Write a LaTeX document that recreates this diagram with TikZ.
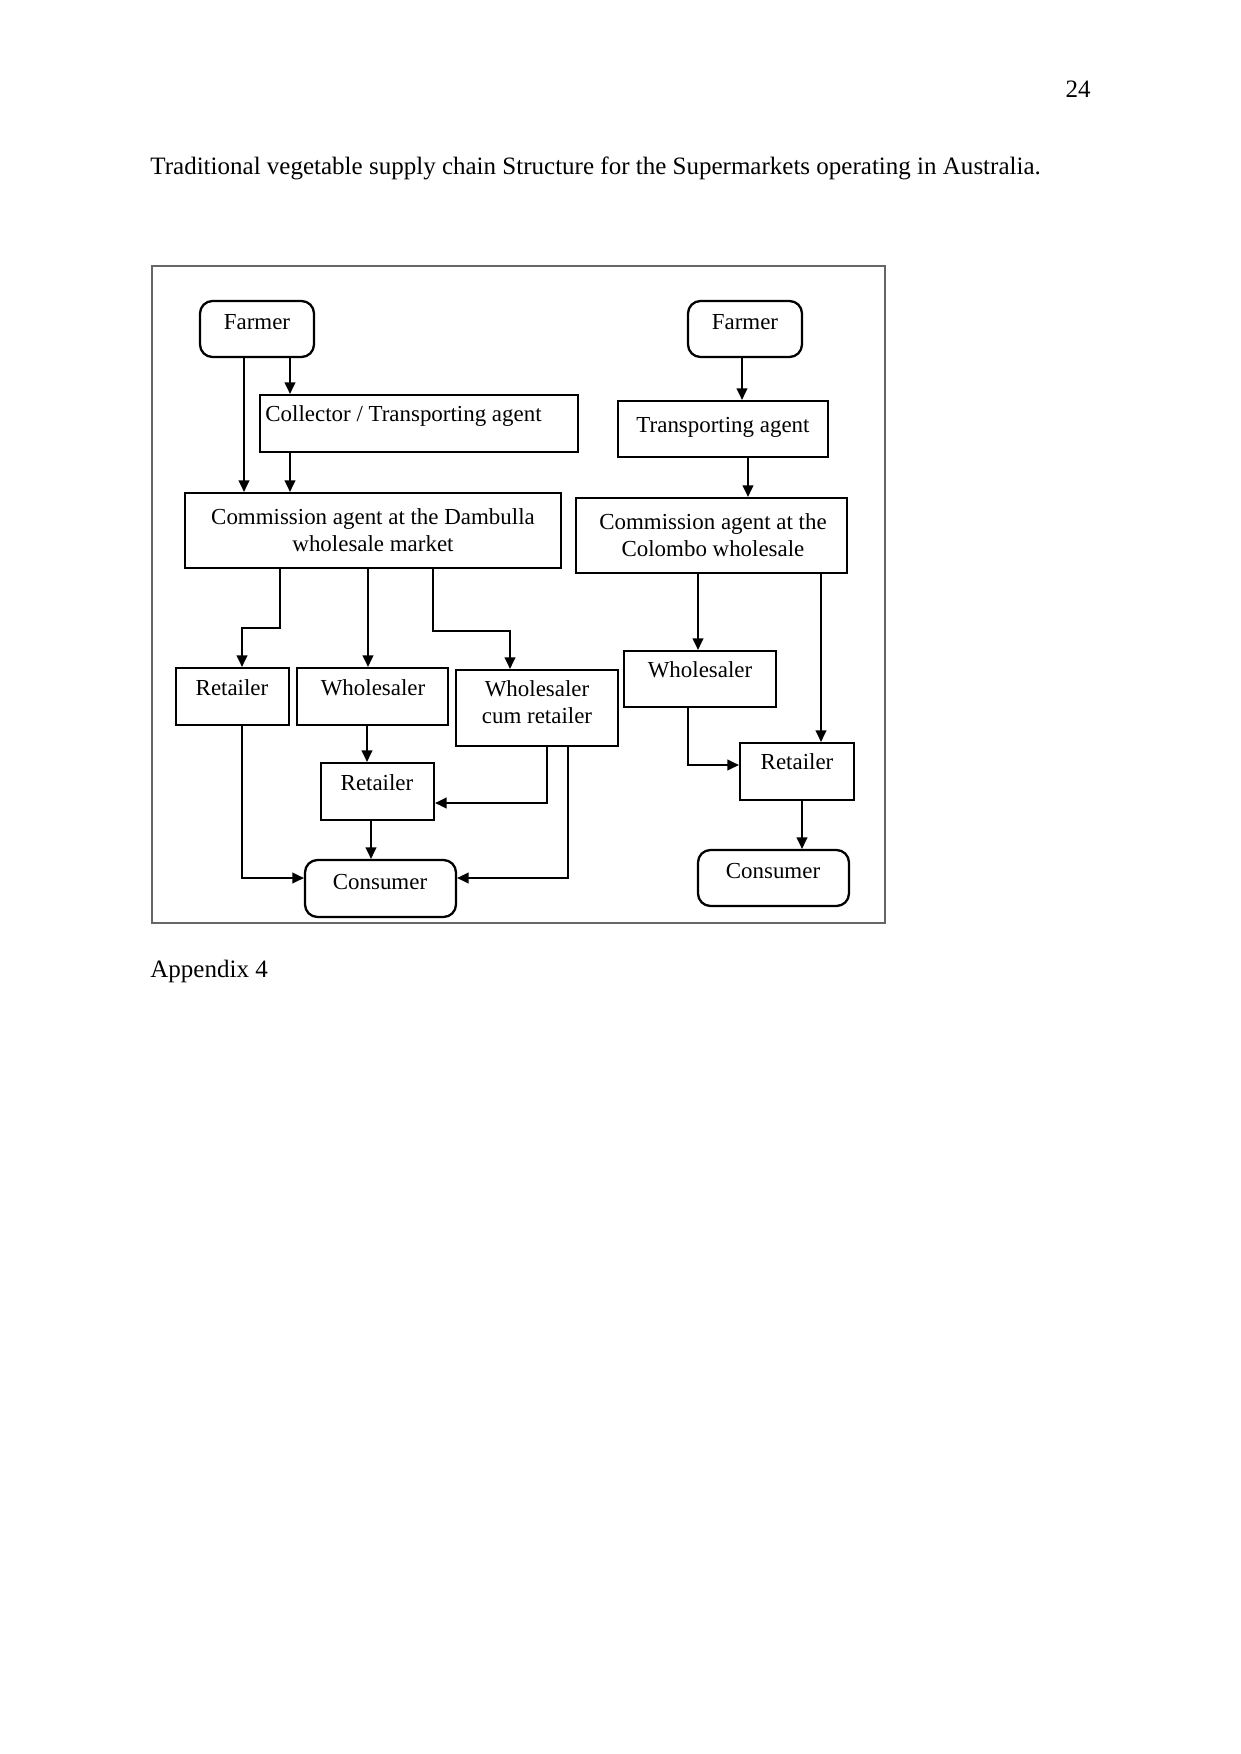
\documentclass[tikz,border=0pt]{standalone}
\usepackage{fontspec}
\setmainfont{Liberation Serif}
\usetikzlibrary{arrows.meta,fit}
\begin{document}
\begin{tikzpicture}[x=0.4797pt,y=-0.4797pt,
  boxn/.style={draw, line width=1.1pt, inner sep=0pt},
  rbox/.style={boxn, rounded corners=6pt},
  lbl/.style={anchor=base, inner sep=0pt, font=\fontsize{11}{13}\selectfont},
  mlbl/.style={align=center, inner sep=0pt, font=\fontsize{11}{13}\selectfont},
  arr/.style={line width=0.6pt, -{Triangle[length=5.5pt,width=5.2pt]}},
  page/.style={inner sep=0pt, font=\fontsize{12}{14}\selectfont},
]
\useasboundingbox (0,0) rectangle (1241,1754);

% page text
\node[page, anchor=base east] (pnum) at (1091,98) {24};
\node[page, anchor=base west] (title) at (150,174) {Traditional vegetable supply chain Structure for the Supermarkets operating in Australia.};
\node[page, anchor=base west] (appx) at (150,977) {Appendix 4};

% frame
\node[draw=black!60, line width=0.7pt, inner sep=0pt, fit={(152,266) (885,923)}] (frame) {};

% boxes
\node[rbox, fit={(200,301) (314,357)}] (farmerL) {};
\node[lbl] (farmerLt) at (257,329) {Farmer};
\node[boxn, fit={(260,395) (578,452)}] (coll) {};
\node[lbl, anchor=base west] (collt) at (265,421) {Collector / Transporting agent};
\node[boxn, fit={(185,493) (561,568)}] (dam) {};
\node[mlbl] (damt) at (373,530) {Commission agent at the Dambulla\\wholesale market};

\node[rbox, fit={(688,301) (802,357)}] (farmerR) {};
\node[lbl] (farmerRt) at (745,329) {Farmer};
\node[boxn, fit={(618,401) (828,457)}] (trans) {};
\node[lbl] (transt) at (723,432) {Transporting agent};
\node[boxn, fit={(576,498) (847,573)}] (col) {};
\node[mlbl] (colt) at (713,535) {Commission agent at the\\Colombo wholesale};

\node[boxn, fit={(176,668) (289,725)}] (ret1) {};
\node[lbl] (ret1t) at (232,695) {Retailer};
\node[boxn, fit={(297,668) (448,725)}] (whl1) {};
\node[lbl] (whl1t) at (373,695) {Wholesaler};
\node[boxn, fit={(456,670) (618,746)}] (wcr) {};
\node[mlbl] (wcrt) at (537,702) {Wholesaler\\cum retailer};
\node[boxn, fit={(321,763) (434,820)}] (ret2) {};
\node[lbl] (ret2t) at (377,790) {Retailer};
\node[rbox, fit={(305,860) (456,917)}] (con1) {};
\node[lbl] (con1t) at (380,889) {Consumer};

\node[boxn, fit={(624,651) (776,707)}] (whl2) {};
\node[lbl] (whl2t) at (700,677) {Wholesaler};
\node[boxn, fit={(740,743) (854,800)}] (ret3) {};
\node[lbl] (ret3t) at (797,769) {Retailer};
\node[rbox, fit={(698,850) (849,906)}] (con2) {};
\node[lbl] (con2t) at (773,878) {Consumer};

% x positions and bend points
\coordinate (x244) at (244,0);
\coordinate (x290) at (290,0);
\coordinate (x742) at (742,0);
\coordinate (x748) at (748,0);
\coordinate (x368) at (368,0);
\coordinate (x367) at (367,0);
\coordinate (x371) at (371,0);
\coordinate (x698) at (698,0);
\coordinate (x821) at (821,0);
\coordinate (x802) at (802,0);
\coordinate (b1a) at (280,628);
\coordinate (b1b) at (242,628);
\coordinate (b2a) at (433,631);
\coordinate (b2b) at (510,631);
\coordinate (b3) at (547,803);
\coordinate (b4) at (568,878);
\coordinate (b5) at (242,878);
\coordinate (b6) at (688,765);

% connectors
\draw[arr] (farmerL.south -| x290) -- (coll.north -| x290);
\draw[arr] (farmerL.south -| x244) -- (dam.north -| x244);
\draw[arr] (coll.south -| x290) -- (dam.north -| x290);
\draw[arr] (farmerR.south -| x742) -- (trans.north -| x742);
\draw[arr] (trans.south -| x748) -- (col.north -| x748);

\draw[arr] (dam.south -| b1a) -- (b1a) -- (b1b) -- (ret1.north -| b1b);
\draw[arr] (dam.south -| x368) -- (whl1.north -| x368);
\draw[arr] (dam.south -| b2a) -- (b2a) -- (b2b) -- (wcr.north -| b2b);
\draw[arr] (whl1.south -| x367) -- (ret2.north -| x367);
\draw[arr] (wcr.south -| b3) -- (b3) -- (ret2.east |- b3);
\draw[arr] (wcr.south -| b4) -- (b4) -- (con1.east |- b4);
\draw[arr] (ret2.south -| x371) -- (con1.north -| x371);
\draw[arr] (ret1.south -| b5) -- (b5) -- (con1.west |- b5);

\draw[arr] (col.south -| x698) -- (whl2.north -| x698);
\draw[arr] (col.south -| x821) -- (ret3.north -| x821);
\draw[arr] (whl2.south -| b6) -- (b6) -- (ret3.west |- b6);
\draw[arr] (ret3.south -| x802) -- (con2.north -| x802);
\end{tikzpicture}
\end{document}
